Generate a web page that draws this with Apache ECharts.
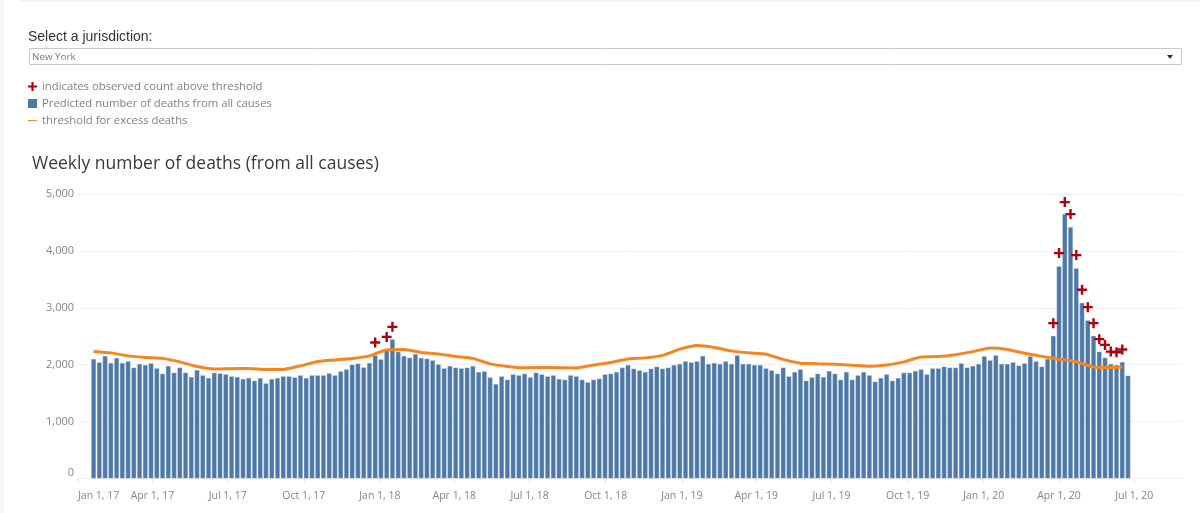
<!DOCTYPE html>
<html lang="en">

<head>
    <meta charset="UTF-8">
    <title>Weekly number of deaths</title>
    <style>
        html, body { margin: 0; padding: 0; background: #fff; }
    </style>
</head>

<body>
    <div id="main" style="width: 1200px; height: 513px"></div>
    <script src="https://cdn.jsdelivr.net/npm/echarts@6/dist/echarts.min.js"></script>
    <script type="text/javascript">
        // weekly values, first week ends Jan 7, 2017
        var predicted = [
            2102, 2043, 2155, 2031, 2120, 2031, 2061, 1950, 2014, 1996, 2026, 1938, 1843, 1979, 1861,
            1950, 1861, 1785, 1908, 1815, 1768, 1861, 1850, 1832, 1797, 1785, 1750, 1768, 1720, 1768,
            1674, 1750, 1768, 1797, 1797, 1779, 1815, 1768, 1815, 1815, 1815, 1850, 1815, 1885, 1920,
            2002, 2020, 1955, 2031, 2167, 2096, 2278, 2448, 2230, 2155, 2125, 2190, 2120, 2108, 2079,
            2008, 1938, 1979, 1950, 1938, 1950, 1979, 1873, 1885, 1779, 1662, 1797, 1738, 1832, 1815,
            1843, 1779, 1861, 1832, 1797, 1815, 1750, 1738, 1815, 1797, 1738, 1692, 1738, 1756, 1832,
            1843, 1873, 1950, 1996, 1932, 1902, 1873, 1932, 1967, 1932, 1950, 1996, 2014, 2061, 2043,
            2061, 2155, 2014, 2031, 2014, 2061, 2014, 2167, 2014, 2014, 1996, 1996, 1938, 1902, 1843,
            1950, 1797, 1873, 1920, 1720, 1779, 1843, 1785, 1891, 1843, 1738, 1873, 1738, 1815, 1873,
            1815, 1703, 1768, 1832, 1720, 1768, 1861, 1861, 1891, 1920, 1832, 1938, 1938, 1967, 1950,
            1950, 2026, 1950, 1979, 2014, 2149, 2079, 2167, 2014, 2014, 2043, 1985, 2026, 2149, 2061,
            1967, 2102, 2507, 3732, 4647, 4418, 3697, 3087, 2782, 2507, 2230, 2125, 2014, 1996, 2049,
            1808
        ];
        // threshold read every third week
        var threshold = [
            2234, 2208, 2155, 2128, 2111, 2049, 1967, 1926, 1931, 1935, 1914, 1917, 1979, 2058, 2084,
            2107, 2155, 2260, 2266, 2216, 2190, 2146, 2111, 2014, 1970, 1947, 1951, 1947, 1944, 1996,
            2040, 2102, 2120, 2164, 2273, 2336, 2304, 2243, 2208, 2185, 2093, 2026, 2018, 2009, 1991,
            1974, 1996, 2049, 2137, 2142, 2176, 2230, 2295, 2269, 2200, 2146, 2097, 2053, 1961, 1952,
            1961
        ];
        var observedWeeks = [49, 51, 52, 167, 168, 169, 170, 171, 172, 173, 174, 175, 176, 177, 178, 179];
        var observed = [2389, 2489, 2665, 2730, 3961, 4858, 4647, 3926, 3316, 3011, 2730, 2449, 2348, 2230, 2220, 2266];
        var tickDates = [
            [2017, 0], [2017, 3], [2017, 6], [2017, 9], [2018, 0], [2018, 3], [2018, 6], [2018, 9],
            [2019, 0], [2019, 3], [2019, 6], [2019, 9], [2020, 0], [2020, 3], [2020, 6]
        ];
        var tickLabels = [
            'Jan 1, 17', 'Apr 1, 17', 'Jul 1, 17', 'Oct 1, 17', 'Jan 1, 18', 'Apr 1, 18', 'Jul 1, 18', 'Oct 1, 18',
            'Jan 1, 19', 'Apr 1, 19', 'Jul 1, 19', 'Oct 1, 19', 'Jan 1, 20', 'Apr 1, 20', 'Jul 1, 20'
        ];

        function weekDate(i) {
            return +new Date(2017, 0, 7 + 7 * i);
        }

        var tickTimes = tickDates.map(function(d) {
            return +new Date(d[0], d[1], 1);
        });
        var plus = 'path://M3.8 0h2.4v3.8h3.8v2.4H6.2v3.8H3.8V6.2H0V3.8h3.8z';
        var textFont = 'Open Sans';

        var myChart = echarts.init(document.getElementById('main'));

        var option = {
            animation: false,
            title: {
                text: 'Weekly number of deaths (from all causes)',
                left: 27,
                top: 150,
                textStyle: {
                    fontFamily: textFont,
                    fontSize: 17.5,
                    fontWeight: 'normal',
                    color: '#3a3a3a'
                }
            },
            legend: {
                left: 28,
                top: 81,
                padding: 0,
                orient: 'vertical',
                selectedMode: false,
                itemWidth: 9,
                itemHeight: 9,
                itemGap: 6,
                symbolKeepAspect: true,
                textStyle: {
                    fontFamily: textFont,
                    fontSize: 11.3,
                    color: '#808080'
                },
                data: [
                    { name: 'indicates observed count above threshold', icon: plus, itemStyle: { opacity: 1 } },
                    {
                        name: 'Predicted number of deaths from all causes',
                        icon: 'rect',
                        itemStyle: { borderWidth: 0 }
                    },
                    { name: 'threshold for excess deaths', icon: 'path://M0 4h10v1H0z' }
                ]
            },
            grid: {
                left: 78,
                right: 17,
                top: 194,
                bottom: 34.5
            },
            xAxis: [{
                // bars and line, positioned by week
                type: 'value',
                min: +new Date(2016, 11, 19),
                max: +new Date(2020, 7, 26),
                axisLabel: { show: false },
                axisTick: { show: false },
                axisLine: { show: false },
                splitLine: { show: false }
            }, {
                // date labels
                type: 'value',
                position: 'bottom',
                min: tickTimes[0],
                max: +new Date(2020, 7, 29),
                axisLine: { onZero: false, lineStyle: { color: '#f0f0f0' } },
                axisTick: {
                    length: 4,
                    lineStyle: { color: '#e6e6e6' },
                    customValues: tickTimes
                },
                axisLabel: {
                    customValues: tickTimes,
                    alignMinLabel: 'left',
                    margin: 12,
                    fontFamily: textFont,
                    fontSize: 10.5,
                    color: '#858585',
                    formatter: function(value) {
                        return tickLabels[tickTimes.indexOf(value)];
                    }
                },
                splitLine: { show: false }
            }],
            yAxis: {
                type: 'value',
                min: 0,
                max: 5000,
                interval: 1000,
                axisLine: { show: false },
                axisTick: { show: false },
                axisLabel: {
                    margin: 4,
                    verticalAlignMinLabel: 'bottom',
                    fontFamily: textFont,
                    fontSize: 11,
                    color: '#858585',
                    formatter: function(value) {
                        return value.toLocaleString('en-US');
                    }
                },
                splitLine: { lineStyle: { color: '#f1f1f1' } }
            },
            series: [{
                name: 'Predicted number of deaths from all causes',
                type: 'bar',
                xAxisIndex: 0,
                barWidth: 5,
                itemStyle: {
                    color: '#4e79a7',
                    borderColor: 'rgba(205,218,232,0.7)',
                    borderWidth: 0.5
                },
                data: predicted.map(function(v, i) {
                    return [weekDate(i), v];
                })
            }, {
                name: 'threshold for excess deaths',
                type: 'line',
                xAxisIndex: 0,
                symbol: 'none',
                smooth: 0.2,
                itemStyle: { color: '#f5861f' },
                lineStyle: { color: '#f5861f', width: 3 },
                z: 3,
                data: threshold.map(function(v, i) {
                    return [weekDate(Math.min(i * 3, 179)), v];
                })
            }, {
                name: 'indicates observed count above threshold',
                type: 'scatter',
                xAxisIndex: 0,
                symbol: plus,
                symbolSize: 10,
                itemStyle: { color: '#b0000f', opacity: 1 },
                z: 4,
                data: observed.map(function(v, i) {
                    return [weekDate(observedWeeks[i]), v];
                })
            }],
            graphic: [
                // page edges
                { type: 'rect', shape: { x: 20, y: 0, width: 1180, height: 2 }, style: { fill: '#f4f4f4' } },
                { type: 'rect', shape: { x: 0, y: 0, width: 4, height: 513 }, style: { fill: '#f6f6f6' } },
                // jurisdiction filter
                {
                    type: 'text', x: 28, y: 30,
                    style: { text: 'Select a jurisdiction:', fontFamily: 'Liberation Sans', fontSize: 14, fill: '#333333' }
                },
                {
                    type: 'rect', shape: { x: 29.5, y: 48.5, width: 1152, height: 16 },
                    style: { fill: '#ffffff', stroke: '#c8c8c8', lineWidth: 1 }
                },
                {
                    type: 'text', x: 32, y: 52,
                    style: { text: 'New York', fontFamily: textFont, fontSize: 9.8, fill: '#7a7a7a' }
                },
                {
                    type: 'polygon', shape: { points: [[1167, 55], [1173, 55], [1170, 59]] },
                    style: { fill: '#333333' }
                }
            ]
        };
        myChart.setOption(option);
    </script>

</body>

</html>
